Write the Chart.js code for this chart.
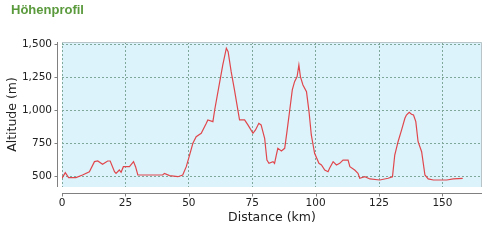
<!DOCTYPE html>
<html>
<head>
<meta charset="utf-8">
<script src="https://cdn.jsdelivr.net/npm/chart.js@4.4.1/dist/chart.umd.min.js"></script>
<style>
  html, body { margin: 0; padding: 0; background: #ffffff; }
  #wrap { position: relative; width: 496px; height: 244px; }
  #title { position: absolute; left: 11px; top: 2px; font: bold 13px "Liberation Sans", Arial, sans-serif; color: #5a9a3c; }
  canvas { position: absolute; left: 0; top: 0; }
</style>
</head>
<body>
<div id="wrap">
  <canvas id="c" width="496" height="244"></canvas>
  <div id="title">Höhenprofil</div>
</div>
<script>
const distKm = [0, 1.3, 2.6, 5.5, 8.1, 10.8, 12.8, 14.1, 16, 18, 19, 20.7, 21.3, 22.6, 23.3, 24.2, 26.6, 28.2, 29, 29.9, 34.5, 39.7, 40.4, 42.4, 45.7, 47.6, 49, 50.3, 51.6, 52.9, 54.9, 56.9, 57.5, 59.5, 60.2, 62.1, 63.4, 64.8, 65.5, 66.7, 68, 70, 72, 73.3, 75.3, 76.3, 77.6, 78.5, 79.9, 80.8, 81.6, 83.2, 83.8, 84.5, 85.1, 86.5, 87.8, 88.7, 89.8, 90.8, 91.7, 92.7, 93.4, 94, 95, 96.4, 97.4, 98.3, 99.6, 101.3, 102.3, 103.6, 104.9, 105.5, 106.9, 108.2, 109.5, 110.8, 112.8, 113.5, 115.4, 116.7, 117.4, 119.4, 121.4, 125.3, 128.6, 130.3, 131.2, 132.5, 133.9, 135.2, 135.8, 136.9, 137.8, 138.6, 139.5, 140.4, 141.8, 143.1, 144.4, 146.4, 151.7, 154.3, 158];
const altM = [485, 527, 490, 490, 510, 535, 611, 616, 591, 616, 616, 535, 522, 548, 530, 573, 573, 611, 573, 510, 510, 510, 522, 505, 497, 510, 573, 661, 750, 800, 826, 901, 927, 914, 1002, 1205, 1343, 1470, 1444, 1292, 1154, 927, 927, 889, 826, 851, 901, 889, 788, 623, 598, 611, 598, 661, 712, 692, 712, 838, 1002, 1154, 1217, 1255, 1343, 1255, 1192, 1141, 989, 813, 674, 598, 586, 548, 535, 561, 611, 586, 598, 623, 623, 573, 548, 523, 485, 497, 480, 472, 485, 497, 661, 762, 851, 939, 964, 985, 970, 964, 914, 762, 686, 510, 480, 472, 472, 480, 485];
const xTicks = [0, 25, 50, 75, 100, 125, 150];
const yTicks = [500, 750, 1000, 1250, 1500];

const points = distKm.map((d, i) => ({ x: d, y: altM[i] }));

const frame = {
  id: 'frame',
  beforeDraw(chart) {
    const { ctx, chartArea: a } = chart;
    ctx.save();
    ctx.fillStyle = '#dcf3fc';
    ctx.fillRect(a.left, a.top, a.right - a.left, a.bottom - a.top);
    ctx.restore();
  },
  afterDraw(chart) {
    const { ctx, chartArea: a, scales } = chart;
    ctx.save();
    ctx.strokeStyle = '#b8c4c8';
    ctx.lineWidth = 1;
    ctx.beginPath();
    ctx.moveTo(a.left, a.top + 0.5); ctx.lineTo(a.right - 0.5, a.top + 0.5);
    ctx.lineTo(a.right - 0.5, a.bottom);
    ctx.stroke();
    ctx.strokeStyle = '#808080';
    const ax = Math.round(a.left - 5) + 0.5;
    const ay = Math.round(a.bottom + 6) + 0.5;
    ctx.beginPath();
    ctx.moveTo(ax, a.top); ctx.lineTo(ax, a.bottom);
    ctx.moveTo(a.left, ay); ctx.lineTo(a.right, ay);
    ctx.stroke();
    ctx.beginPath();
    scales.y.ticks.forEach(t => {
      const py = Math.round(scales.y.getPixelForValue(t.value)) + 0.5;
      ctx.moveTo(ax - 3, py); ctx.lineTo(ax, py);
    });
    scales.x.ticks.forEach(t => {
      const px = Math.round(scales.x.getPixelForValue(t.value)) + 0.5;
      ctx.moveTo(px, ay); ctx.lineTo(px, ay + 3);
    });
    ctx.stroke();
    ctx.restore();
  }
};

new Chart(document.getElementById('c'), {
  type: 'line',
  data: {
    datasets: [{
      data: points,
      borderColor: '#e0474c',
      borderWidth: 1.2,
      pointRadius: 0,
      fill: false,
      tension: 0
    }]
  },
  options: {
    responsive: false,
    animation: false,
    devicePixelRatio: 1,
    layout: { padding: { left: 5, right: 14, top: 42, bottom: 19 } },
    plugins: { legend: { display: false }, tooltip: { enabled: false } },
    scales: {
      x: {
        type: 'linear',
        min: 0,
        max: 165.6,
        afterBuildTicks: s => { s.ticks = xTicks.map(v => ({ value: v })); },
        afterFit: s => { s.height = 38; },
        border: { display: false, dash: [2, 2] },
        grid: { color: '#7fa89a', drawTicks: false, lineWidth: 1 },
        ticks: { color: '#222', padding: 10, font: { family: 'DejaVu Sans', size: 10.5 }, maxRotation: 0 },
        title: { display: true, text: 'Distance (km)', color: '#222', font: { family: 'DejaVu Sans', size: 12.5 }, padding: 0 }
      },
      y: {
        min: 419,
        max: 1517,
        afterBuildTicks: s => { s.ticks = yTicks.map(v => ({ value: v })); },
        afterFit: s => { s.width = 57; },
        border: { display: false, dash: [2, 2] },
        grid: { color: '#7fa89a', drawTicks: false, lineWidth: 1 },
        ticks: { color: '#222', padding: 10, font: { family: 'DejaVu Sans', size: 10.5 },
          callback: v => v.toLocaleString('en-US') },
        title: { display: true, text: 'Altitude (m)', color: '#222', font: { family: 'DejaVu Sans', size: 12.5 }, padding: 0 }
      }
    }
  },
  plugins: [frame]
});
</script>
</body>
</html>
